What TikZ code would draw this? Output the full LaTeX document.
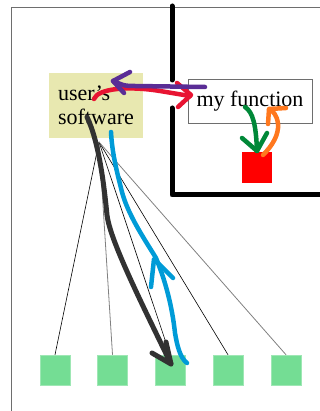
\documentclass[tikz,border=0pt]{standalone}
\usepackage{fontspec}
\setmainfont{Liberation Serif}
\usetikzlibrary{calc}
\definecolor{boxyellow}{RGB}{232,232,176}
\definecolor{sqgreen}{RGB}{116,221,148}
\definecolor{framegray}{RGB}{110,110,110}
\definecolor{thingray}{RGB}{128,128,128}
\definecolor{penred}{RGB}{232,20,50}
\definecolor{penpurple}{RGB}{90,45,150}
\definecolor{pengreen}{RGB}{0,136,56}
\definecolor{penorange}{RGB}{255,120,30}
\definecolor{penblue}{RGB}{0,155,215}
\definecolor{pendark}{RGB}{50,50,50}
\tikzset{
  x=1pt, y=-1pt,
  frame/.style={draw=framegray, line width=1pt},
  wall/.style={draw=black, line width=5pt, line cap=round, line join=round},
  thin1/.style={draw=thingray, line width=0.8pt},
  thin2/.style={draw=black, line width=0.6pt},
  pen/.style={line width=4.5pt, line cap=round, line join=round},
  leaf/.style={fill=sqgreen, draw=sqgreen!70!white, line width=0.5pt, minimum width=30pt, minimum height=30pt, inner sep=0pt},
  txt/.style={font=\fontsize{22}{24}\selectfont, text=black}
}
\begin{document}
\begin{tikzpicture}
\useasboundingbox (0,0) rectangle (320,411);
% outer frame
\draw[frame] (320,8) -- (11,8) -- (11,411);
% thick wall
\draw[wall] (172,6) -- (172,80);
\draw[wall] (172,108) -- (172,195) -- (320,195);
% boxes
\node[fill=boxyellow, minimum width=94pt, minimum height=65pt, inner sep=0pt, txt, align=left] (user) at (96,105.5) {user's\\software};
\node[draw=framegray, fill=white, line width=0.8pt, minimum width=124pt, minimum height=44pt, inner sep=0pt, txt] (func) at (250,101) {my function};
\node[fill=red, minimum width=30pt, minimum height=31pt, inner sep=0pt] (redsq) at (257,167.5) {};
% leaves
\node[leaf] (g1) at (55,370) {};
\node[leaf] (g2) at (112.5,370) {};
\node[leaf] (g3) at (170,370) {};
\node[leaf] (g4) at (228,370) {};
\node[leaf] (g5) at (286,370) {};
% thin connectors
\coordinate (apex) at (99,142);
\draw[thin2] (apex) -- (g1.north);
\draw[thin1] (apex) -- (g2.north);
\draw[thin2] (apex) -- (g3.north);
\draw[thin2] (apex) -- (g4.north);
\draw[thin1] (apex) -- (g5.north);
% hand-drawn strokes
% dark arrow user -> g3
\draw[pen, draw=pendark, line width=5pt] (87,117) .. controls (99,142) and (104,185) .. (107,215) .. controls (110,240) and (140,300) .. (171,364);
\draw[pen, draw=pendark, line width=5pt] (152,353) -- (171,364) -- (166,342);
% blue arrow g3 -> user
\draw[pen, draw=penblue] (187,363) .. controls (180,358) and (177,345) .. (175,333) .. controls (172,305) and (165,280) .. (156,258) .. controls (145,240) and (128,215) .. (122,192) .. controls (115,165) and (112,150) .. (111,132);
\draw[pen, draw=penblue] (151,287) -- (154,259) -- (173,278);
% red arrow user -> func
\draw[pen, draw=penred] (94,99) .. controls (98,88) and (130,86) .. (160,91) .. controls (175,93) .. (190,96);
\draw[pen, draw=penred] (177,83) -- (191,95) -- (178,107);
% purple arrow func -> user
\draw[pen, draw=penpurple] (205,87) -- (135,86) .. controls (125,86) .. (113,81);
\draw[pen, draw=penpurple] (130,72) -- (113,81) -- (124,93);
% green arrow func -> red square
\draw[pen, draw=pengreen] (245,107) .. controls (253,112) and (256,125) .. (257,151);
\draw[pen, draw=pengreen] (242,138) -- (257,151) -- (267,133);
% orange arrow red square -> func
\draw[pen, draw=penorange] (263,155) .. controls (272,146) and (279,135) .. (278,124) .. controls (277,115) and (273,111) .. (269,109);
\draw[pen, draw=penorange] (286,108) -- (269,109) -- (268,124);
\end{tikzpicture}
\end{document}
